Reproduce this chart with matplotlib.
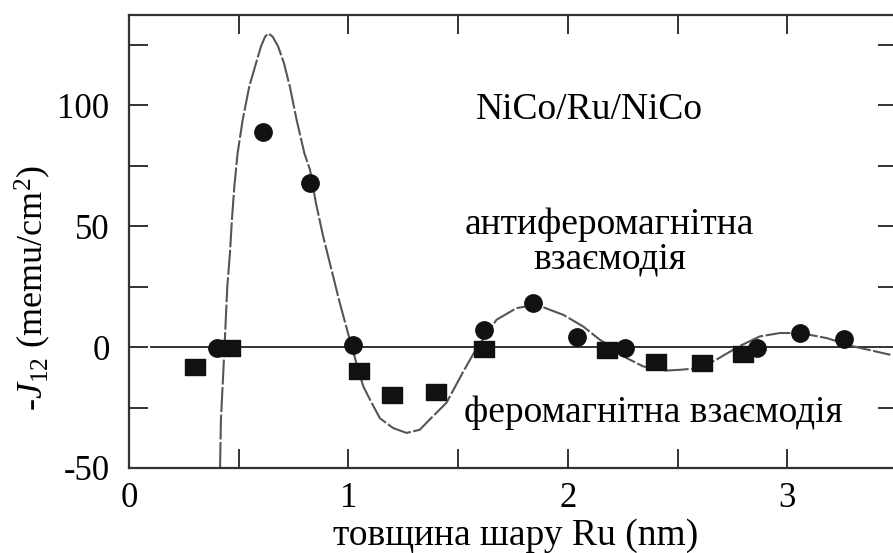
import matplotlib
matplotlib.use('Agg')
import matplotlib.pyplot as plt

plt.rcParams['font.family'] = ['Liberation Serif', 'DejaVu Serif']
plt.rcParams['mathtext.fontset'] = 'custom'
plt.rcParams['mathtext.rm'] = 'Liberation Serif'
plt.rcParams['mathtext.it'] = 'Liberation Serif:italic'
plt.rcParams['axes.unicode_minus'] = False

# measured points (AF coupling = circles, F coupling = squares)
circ_x = [0.40, 0.61, 0.825, 1.02, 1.62, 1.84, 2.04, 2.26, 2.86, 3.06, 3.26]
circ_y = [-0.5, 89, 68, 0.7, 7, 18.3, 4.2, -0.3, -0.3, 6, 3.5]
sq_x = [0.30, 0.46, 1.05, 1.20, 1.40, 1.62, 2.18, 2.40, 2.61, 2.80]
sq_y = [-8.4, -0.2, -10, -19.7, -18.5, -0.6, -1.1, -6, -6.6, -2.8]

# fitted curve
curve_x = [0.415, 0.419, 0.434, 0.448, 0.460, 0.469, 0.480, 0.495, 0.518, 0.548,
           0.579, 0.601, 0.620, 0.635, 0.655, 0.680, 0.706, 0.733, 0.764, 0.799,
           0.825, 0.852, 0.885, 0.923, 0.961, 1.002, 1.045, 1.068, 1.106, 1.144,
           1.204, 1.265, 1.325, 1.37, 1.447, 1.52, 1.58, 1.675, 1.766, 1.857,
           1.98, 2.07, 2.146, 2.2, 2.267, 2.343, 2.45, 2.51, 2.6, 2.677, 2.78,
           2.875, 2.966, 3.06, 3.18, 3.3, 3.47]
curve_y = [-49.6, -30, -2.5, 25.0, 38.8, 52.6, 66.4, 80.2, 93.9, 107.7,
           117.4, 124.2, 128.3, 129.7, 128.3, 124.2, 117.4, 107.7, 93.9, 80.2,
           73.3, 59.5, 45.7, 31.9, 18.1, 4.4, -9.4, -16.3, -23.1, -29.5,
           -33.5, -35.5, -34.2, -30, -23, -10.7, -1.1, 11.3, 16.1, 17.5,
           13.3, 8.5, 3, 0, -4.5, -8, -9.7, -9.4, -8.7, -5.2, 0.3,
           4.4, 5.8, 5.8, 3.7, 0.3, -3.2]

x_ticks = [0, 1, 2, 3]
y_ticks = [-50, 0, 50, 100]

fig = plt.figure(figsize=(8.93, 5.53), dpi=100)
ax = fig.add_axes([129 / 893, 1 - 468 / 553, (897 - 129) / 893, (468 - 15) / 553])

ax.plot([0.1, 3.41], [0, 0], color='#222222', lw=1.3, zorder=2)
ax.plot(curve_x, curve_y, color='#555555', lw=1.5, dashes=(12, 1.2), zorder=2)

sq_marker = [(-1.25, -1), (1.25, -1), (1.25, 1), (-1.25, 1), (-1.25, -1)]
ax.plot(sq_x, sq_y, ls='none', marker=sq_marker, ms=14, color='#111111', zorder=3)
ax.plot(circ_x, circ_y, ls='none', marker='o', ms=12.5, color='#111111', zorder=4)

ax.text(2.1, 98, 'NiCo/Ru/NiCo', fontsize=27, ha='center', va='center')
ax.text(2.19, 43.5, 'антиферомагнітна\nвзаємодія', fontsize=27, ha='center',
        va='center', linespacing=1.0)
ax.text(2.39, -27, 'феромагнітна взаємодія', fontsize=27, ha='center', va='center')

ax.set_xlim(0, 3.5)
ax.set_ylim(-50, 137.3)
ax.set_xticks(x_ticks)
ax.set_yticks(y_ticks)
ax.set_xticks([0.5, 1.5, 2.5, 3.5], minor=True)
ax.set_yticks([-25, 25, 75, 125], minor=True)
ax.tick_params(which='both', direction='in', top=True, right=True, length=14,
               width=1.4, color='#333333', labelsize=25)
ax.tick_params(axis='x', which='both', pad=10)
ax.tick_params(axis='y', which='both', pad=14)
for s in ax.spines.values():
    s.set_linewidth(1.6)
    s.set_color('#333333')

fig.text(516 / 893, 1 - 536 / 553, 'товщина шару Ru (nm)', fontsize=27,
         ha='center', va='center')
fig.text(33 / 893, 1 - 288 / 553, r'-$J_{12}$ (memu/cm$^2$)', fontsize=26,
         ha='center', va='center', rotation=90)

fig.savefig('out.png', dpi=100)
